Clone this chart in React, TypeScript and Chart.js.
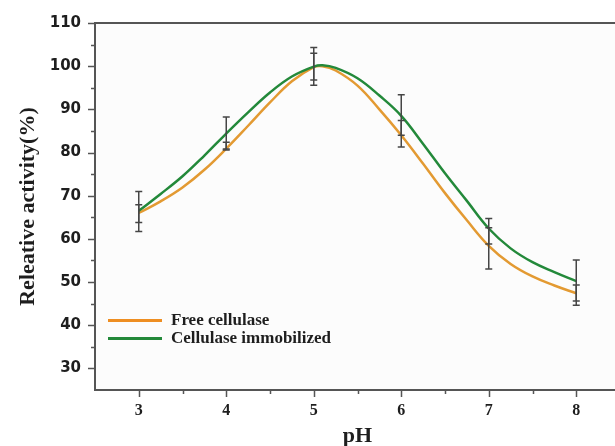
import React, { useEffect, useRef } from "react";
import { Chart, registerables } from "chart.js";

Chart.register(...registerables);

// ---- data ----
const seriesLabels = ["Free cellulase", "Cellulase immobilized"];
const seriesColors = ["#EE8E22", "#23893A"];

// measured points (pH) with error bar ranges
const phValues = [3, 4, 5, 6, 7, 8];
const freeLow = [63.8, 80.6, 96.8, 84.0, 58.8, 45.6];
const freeHigh = [67.9, 82.4, 103.0, 87.4, 62.6, 49.3];
const immLow = [61.7, 80.8, 95.6, 81.3, 53.0, 44.6];
const immHigh = [71.0, 88.2, 104.3, 93.4, 64.7, 55.1];

// fitted curves
const curvePH = [3, 3.25, 3.5, 3.75, 4, 4.25, 4.5, 4.75, 5, 5.1, 5.25, 5.5, 5.75, 6, 6.25, 6.5, 6.75, 7, 7.25, 7.5, 7.75, 8];
const freeCurve = [66.0, 68.7, 71.9, 76.0, 80.9, 86.2, 91.6, 96.5, 99.8, 100.0, 99.0, 95.5, 90.0, 84.0, 77.4, 70.6, 64.3, 58.4, 54.2, 51.3, 49.2, 47.4];
const immCurve = [66.5, 70.4, 74.5, 79.3, 84.4, 89.3, 93.9, 97.6, 99.9, 100.2, 99.6, 97.2, 93.2, 88.5, 82.0, 75.2, 68.8, 62.4, 57.8, 54.6, 52.3, 50.2];

const xTickValues = [3, 4, 5, 6, 7, 8];
const yTickValues = [30, 40, 50, 60, 70, 80, 90, 100, 110];
const xTitle = "pH";
const yTitle = "Releative activity(%)";

const AXIS_COLOR = "#555555";
const TEXT_COLOR = "#1e1e1e";
const ERR_COLOR = "#454545";

const decorPlugin = {
  id: "decor",
  beforeDraw(chart: any) {
    const { ctx, chartArea } = chart;
    ctx.save();
    ctx.fillStyle = "#ffffff";
    ctx.fillRect(0, 0, chart.width, chart.height);
    ctx.fillStyle = "#fcfcfc";
    ctx.fillRect(chartArea.left, chartArea.top, chartArea.right - chartArea.left, chartArea.bottom - chartArea.top);
    ctx.restore();
  },
  afterDatasetsDraw(chart: any) {
    const { ctx } = chart;
    const xs = chart.scales.x;
    const ys = chart.scales.y;
    ctx.save();
    ctx.strokeStyle = ERR_COLOR;
    ctx.lineWidth = 1.5;
    const drawBar = (x: number, lo: number, hi: number) => {
      const px = xs.getPixelForValue(x);
      const pl = ys.getPixelForValue(lo);
      const ph = ys.getPixelForValue(hi);
      ctx.beginPath();
      ctx.moveTo(px, pl);
      ctx.lineTo(px, ph);
      ctx.moveTo(px - 3.5, pl);
      ctx.lineTo(px + 3.5, pl);
      ctx.moveTo(px - 3.5, ph);
      ctx.lineTo(px + 3.5, ph);
      ctx.stroke();
    };
    phValues.forEach((p, i) => {
      drawBar(p, immLow[i], immHigh[i]);
      drawBar(p, freeLow[i], freeHigh[i]);
    });
    ctx.restore();
  },
  afterDraw(chart: any) {
    const { ctx, chartArea } = chart;
    const xs = chart.scales.x;
    const ys = chart.scales.y;
    const { left, right, top, bottom } = chartArea;
    ctx.save();
    // frame
    ctx.strokeStyle = AXIS_COLOR;
    ctx.lineWidth = 2;
    ctx.beginPath();
    ctx.moveTo(right + 5, top);
    ctx.lineTo(left, top);
    ctx.lineTo(left, bottom);
    ctx.lineTo(right + 5, bottom);
    ctx.stroke();
    // y ticks
    ctx.lineWidth = 1.5;
    ctx.beginPath();
    for (let v = 30; v <= 110; v += 5) {
      const py = Math.round(ys.getPixelForValue(v)) + 0.5;
      const len = v % 10 === 0 ? 7 : 4;
      ctx.moveTo(left, py);
      ctx.lineTo(left - len, py);
    }
    // x ticks
    for (let v = 3; v <= 8.5; v += 0.5) {
      const px = Math.round(xs.getPixelForValue(v)) + 0.5;
      const len = Number.isInteger(v) ? 7 : 4;
      ctx.moveTo(px, bottom);
      ctx.lineTo(px, bottom + len);
    }
    ctx.stroke();

    // legend
    const legendX = 108;
    const legendY = [320.5, 338.5];
    seriesLabels.forEach((lab, i) => {
      ctx.strokeStyle = seriesColors[i];
      ctx.lineWidth = 3;
      ctx.beginPath();
      ctx.moveTo(legendX, legendY[i]);
      ctx.lineTo(legendX + 54, legendY[i]);
      ctx.stroke();
      ctx.fillStyle = TEXT_COLOR;
      ctx.font = "bold 17px 'Liberation Serif'";
      ctx.textAlign = "left";
      ctx.textBaseline = "middle";
      ctx.fillText(lab, legendX + 63, legendY[i]);
    });

    // axis titles
    ctx.fillStyle = TEXT_COLOR;
    ctx.font = "bold 22px 'Liberation Serif'";
    ctx.textAlign = "center";
    ctx.textBaseline = "middle";
    ctx.fillText(xTitle, (left + right) / 2, 436);
    ctx.translate(28, (top + bottom) / 2);
    ctx.rotate(-Math.PI / 2);
    ctx.font = "bold 22px 'Liberation Serif'";
    ctx.fillText(yTitle, 0, 0);
    ctx.restore();
  },
};

export default function App() {
  const canvasRef = useRef<HTMLCanvasElement | null>(null);

  useEffect(() => {
    const canvas = canvasRef.current;
    if (!canvas) return;
    const chart = new Chart(canvas, {
      type: "line",
      data: {
        datasets: [
          {
            label: seriesLabels[0],
            data: curvePH.map((p, i) => ({ x: p, y: freeCurve[i] })),
            borderColor: "#E39A32",
            borderWidth: 2.5,
            pointRadius: 0,
            tension: 0.4,
            order: 1,
          },
          {
            label: seriesLabels[1],
            data: curvePH.map((p, i) => ({ x: p, y: immCurve[i] })),
            borderColor: seriesColors[1],
            borderWidth: 2.5,
            pointRadius: 0,
            tension: 0.4,
            order: 0,
          },
        ],
      },
      options: {
        animation: false,
        responsive: false,
        maintainAspectRatio: false,
        layout: { padding: { top: 20, right: 10, left: 0, bottom: 0 } },
        plugins: {
          legend: { display: false },
          tooltip: { enabled: false },
          title: { display: false },
        },
        scales: {
          x: {
            type: "linear",
            min: 2.5,
            max: 8.5,
            grid: { display: false, drawTicks: false },
            border: { display: false },
            afterBuildTicks: (s: any) => {
              s.ticks = xTickValues.map((value) => ({ value }));
            },
            afterFit: (s: any) => {
              s.height = 56;
            },
            ticks: {
              padding: 11,
              color: TEXT_COLOR,
              font: { family: "'Liberation Serif'", weight: "bold", size: 16 },
              maxRotation: 0,
            },
          },
          y: {
            type: "linear",
            min: 25,
            max: 110,
            grid: { display: false, drawTicks: false },
            border: { display: false },
            afterBuildTicks: (s: any) => {
              s.ticks = yTickValues.map((value) => ({ value }));
            },
            afterFit: (s: any) => {
              s.width = 95;
            },
            ticks: {
              padding: 14,
              color: TEXT_COLOR,
              font: { family: "'DejaVu Sans'", weight: "bold", size: 15 },
            },
          },
        },
      },
      plugins: [decorPlugin],
    });
    return () => chart.destroy();
  }, []);

  return (
    <div
      style={{
        position: "absolute",
        left: 0,
        top: 0,
        width: 615,
        height: 446,
        overflow: "hidden",
        background: "#ffffff",
      }}
    >
      <canvas ref={canvasRef} width={630} height={446} style={{ display: "block" }} />
    </div>
  );
}
